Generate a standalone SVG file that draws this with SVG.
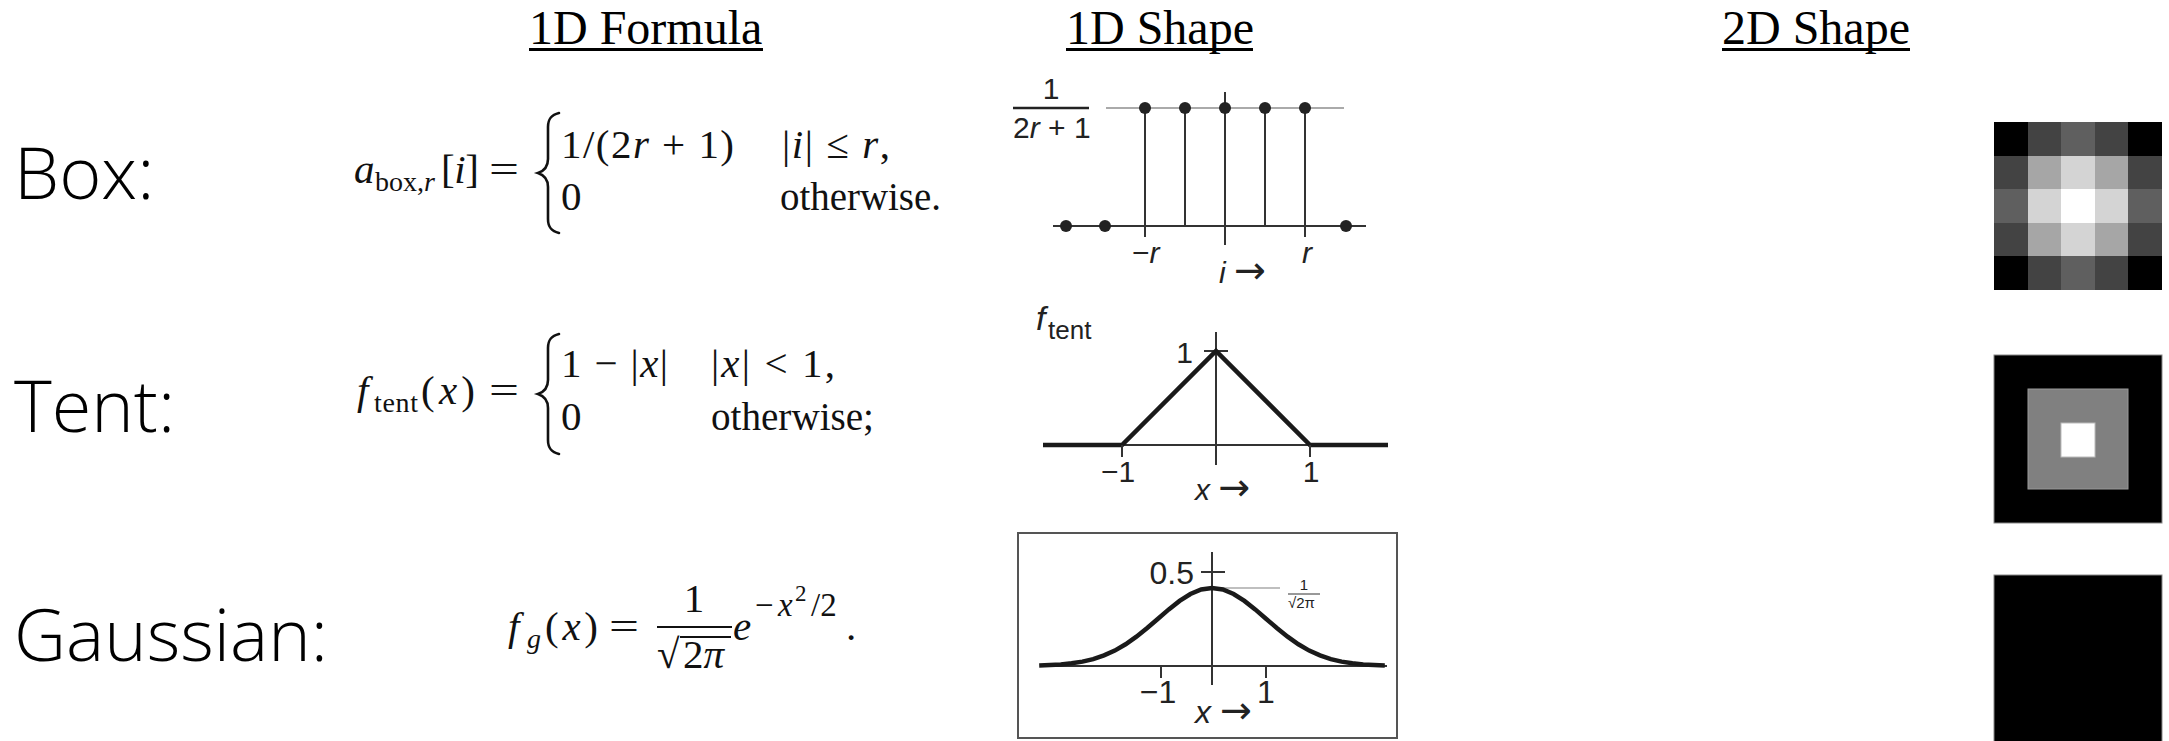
<svg xmlns="http://www.w3.org/2000/svg" width="2169" height="741" viewBox="0 0 2169 741">
<style>
.hdr{font-family:"Liberation Serif",serif;font-size:48px;fill:#000}
.lbl{font-family:"Open Sans","Noto Sans",sans-serif;font-weight:300;font-size:72px;fill:#000}
.m{font-family:"Liberation Serif",serif;font-size:41px;fill:#111}
.s{font-size:28px}
.i{font-style:italic}
.pl{font-family:"Liberation Sans",Arial,sans-serif;font-size:30px;fill:#222}
.arr{font-family:"DejaVu Sans",sans-serif;font-size:38px;font-style:normal}
.ax{stroke:#333;stroke-width:2;fill:none}
.thick{stroke:#1a1a1a;stroke-width:4.5;fill:none;stroke-linejoin:miter}
.gray{stroke:#aaa;stroke-width:2;fill:none}
.dot{fill:#222}
.brace{stroke:#111;stroke-width:2.6;fill:none;stroke-linecap:round}
.ul{fill:#000}
</style>

<g id="headers">
  <g id="header-formula"><text class="hdr" x="529" y="44">1D Formula</text><rect class="ul" x="529" y="48" width="234" height="3"/></g>
  <g id="header-shape1d"><text class="hdr" x="1066" y="44">1D Shape</text><rect class="ul" x="1066" y="48" width="187" height="3"/></g>
  <g id="header-shape2d"><text class="hdr" x="1722" y="44">2D Shape</text><rect class="ul" x="1722" y="48" width="188" height="3"/></g>
</g>

<g id="label-box"><text class="lbl" x="14" y="199">Box:</text></g>
<g id="label-tent"><text class="lbl" x="14" y="432">Tent:</text></g>
<g id="label-gaussian"><text class="lbl" x="14" y="661">Gaussian:</text></g>

<g id="formula-box">
  <text class="m i" x="354" y="183">a</text>
  <text class="m s" x="375" y="191">box,<tspan class="i">r</tspan></text>
  <text class="m" x="441" y="183" textLength="38" lengthAdjust="spacing">[<tspan class="i">i</tspan>]</text>
  <text class="m" x="489" y="183" textLength="30" lengthAdjust="spacingAndGlyphs">=</text>
  <path class="brace" d="M559,113 C551,115 548,119 548,127 L548,159 C548,167 544,171 538,173 C544,175 548,179 548,187 L548,219 C548,227 551,231 559,233"/>
  <text class="m" x="561" y="158" textLength="173" lengthAdjust="spacing">1/(2<tspan class="i">r</tspan> + 1)</text>
  <text class="m" x="782" y="158" textLength="108" lengthAdjust="spacing">|<tspan class="i">i</tspan>| ≤ <tspan class="i">r</tspan>,</text>
  <text class="m" x="561" y="210">0</text>
  <text class="m" x="780" y="210" textLength="161" lengthAdjust="spacingAndGlyphs">otherwise.</text>
</g>

<g id="formula-tent">
  <text class="m i" x="357" y="404">f</text>
  <text class="m s" x="374" y="412" textLength="44" lengthAdjust="spacing">tent</text>
  <text class="m" x="421" y="404" textLength="54" lengthAdjust="spacing">(<tspan class="i">x</tspan>)</text>
  <text class="m" x="489" y="404" textLength="30" lengthAdjust="spacingAndGlyphs">=</text>
  <path class="brace" d="M559,334 C551,336 548,340 548,348 L548,380 C548,388 544,392 538,394 C544,396 548,400 548,408 L548,440 C548,448 551,452 559,454"/>
  <text class="m" x="561" y="377" textLength="107" lengthAdjust="spacing">1 − |<tspan class="i">x</tspan>|</text>
  <text class="m" x="711" y="377" textLength="124" lengthAdjust="spacing">|<tspan class="i">x</tspan>| &lt; 1,</text>
  <text class="m" x="561" y="430">0</text>
  <text class="m" x="711" y="430" textLength="163" lengthAdjust="spacingAndGlyphs">otherwise;</text>
</g>

<g id="formula-gaussian">
  <text class="m i" x="508" y="640">f</text>
  <text class="m s i" x="527" y="648">g</text>
  <text class="m" x="545" y="640" textLength="53" lengthAdjust="spacing">(<tspan class="i">x</tspan>)</text>
  <text class="m" x="609" y="640" textLength="30" lengthAdjust="spacingAndGlyphs">=</text>
  <text class="m" x="694" y="612" text-anchor="middle">1</text>
  <line x1="657" y1="627" x2="732" y2="627" stroke="#111" stroke-width="2"/>
  <text class="m" x="657" y="668">√</text>
  <line x1="680" y1="637" x2="731" y2="637" stroke="#111" stroke-width="2"/>
  <text class="m" x="683" y="668">2<tspan class="i">π</tspan></text>
  <text class="m i" x="733" y="640">e</text>
  <text class="m" style="font-size:33px" x="755" y="616">−</text>
  <text class="m i" style="font-size:33px" x="778" y="616">x</text>
  <text class="m" style="font-size:23px" x="795" y="601">2</text>
  <text class="m" style="font-size:33px" x="811" y="616">/2</text>
  <text class="m" x="846" y="640">.</text>
</g>

<g id="plot-box">
  <text class="pl" x="1051" y="99" text-anchor="middle">1</text>
  <line x1="1013" y1="108" x2="1089" y2="108" stroke="#222" stroke-width="2.5"/>
  <text class="pl" x="1013" y="138">2<tspan class="i">r</tspan> + 1</text>
  <line class="gray" x1="1106" y1="108" x2="1344" y2="108"/>
  <line class="ax" x1="1225" y1="92" x2="1225" y2="245"/>
  <line class="ax" x1="1053" y1="226" x2="1366" y2="226"/>
  <line class="ax" x1="1145" y1="108" x2="1145" y2="237"/>
  <line class="ax" x1="1185" y1="108" x2="1185" y2="226"/>
  <line class="ax" x1="1265" y1="108" x2="1265" y2="226"/>
  <line class="ax" x1="1305" y1="108" x2="1305" y2="237"/>
  <circle class="dot" cx="1145" cy="108" r="6"/>
  <circle class="dot" cx="1185" cy="108" r="6"/>
  <circle class="dot" cx="1225" cy="108" r="6"/>
  <circle class="dot" cx="1265" cy="108" r="6"/>
  <circle class="dot" cx="1305" cy="108" r="6"/>
  <circle class="dot" cx="1066" cy="226" r="6"/>
  <circle class="dot" cx="1105" cy="226" r="6"/>
  <circle class="dot" cx="1346" cy="226" r="6"/>
  <text class="pl" x="1132" y="263">−<tspan class="i">r</tspan></text>
  <text class="pl i" x="1307" y="263" text-anchor="middle">r</text>
  <text class="pl" x="1219" y="283"><tspan class="i">i</tspan> <tspan class="arr">→</tspan></text>
</g>

<g id="plot-tent">
  <text class="pl i" x="1036" y="330" style="font-size:34px">f</text>
  <text class="pl" x="1048" y="339" style="font-size:26px">tent</text>
  <line class="ax" x1="1216" y1="332" x2="1216" y2="465"/>
  <line class="ax" x1="1204" y1="351" x2="1228" y2="351"/>
  <text class="pl" x="1193" y="363" text-anchor="end">1</text>
  <line class="ax" x1="1043" y1="445" x2="1388" y2="445"/>
  <path class="thick" d="M1043,445 L1122,445 L1216,351 L1310,445 L1388,445"/>
  <line class="ax" x1="1122" y1="445" x2="1122" y2="457"/>
  <line class="ax" x1="1310" y1="445" x2="1310" y2="457"/>
  <text class="pl" x="1118" y="482" text-anchor="middle">−1</text>
  <text class="pl" x="1311" y="482" text-anchor="middle">1</text>
  <text class="pl" x="1195" y="500"><tspan class="i">x</tspan> <tspan class="arr">→</tspan></text>
</g>

<g id="plot-gaussian">
  <rect x="1018" y="533" width="379" height="205" fill="none" stroke="#555" stroke-width="2"/>
  <line class="ax" x1="1212" y1="552" x2="1212" y2="685"/>
  <line class="ax" x1="1201" y1="572" x2="1225" y2="572"/>
  <text class="pl" x="1194" y="584" text-anchor="end" style="font-size:32px">0.5</text>
  <line x1="1212" y1="588" x2="1280" y2="588" stroke="#aaa" stroke-width="1.5"/>
  <text class="pl" x="1304" y="590" text-anchor="middle" style="font-size:15px">1</text>
  <line x1="1288" y1="594" x2="1320" y2="594" stroke="#333" stroke-width="1"/>
  <text class="pl" x="1288" y="608" style="font-size:15px">√2π</text>
  <line class="ax" x1="1040" y1="666" x2="1387" y2="666"/>
  <line class="ax" x1="1161" y1="666" x2="1161" y2="678"/>
  <line class="ax" x1="1266" y1="666" x2="1266" y2="678"/>
  <polyline class="thick" stroke-linejoin="round" points="1039.2,665.5 1050,665.1 1060.8,664.5 1071.6,663.3 1082.4,661.6 1093.2,659.1 1104,655.4 1114.8,650.6 1125.6,644.3 1136.4,636.7 1147.2,628 1158,618.7 1168.8,609.4 1179.6,600.9 1190.4,594 1201.2,589.5 1212,588 1222.8,589.5 1233.6,594 1244.4,600.9 1255.2,609.4 1266,618.7 1276.8,628 1287.6,636.7 1298.4,644.3 1309.2,650.6 1320,655.4 1330.8,659.1 1341.6,661.6 1352.4,663.3 1363.2,664.5 1374,665.1 1384.8,665.5"/>
  <text class="pl" x="1158" y="703" text-anchor="middle" style="font-size:32px">−1</text>
  <text class="pl" x="1266" y="703" text-anchor="middle" style="font-size:32px">1</text>
  <text class="pl" x="1195" y="723" style="font-size:32px"><tspan class="i">x</tspan> <tspan class="arr">→</tspan></text>
</g>

<g id="kernel-box" stroke="none">
  <rect x="1994" y="122" width="34" height="34" fill="#000"/>
  <rect x="2028" y="122" width="33" height="34" fill="#434343"/>
  <rect x="2061" y="122" width="34" height="34" fill="#5f5f5f"/>
  <rect x="2095" y="122" width="33" height="34" fill="#434343"/>
  <rect x="2128" y="122" width="34" height="34" fill="#000"/>
  <rect x="1994" y="156" width="34" height="33" fill="#434343"/>
  <rect x="2028" y="156" width="33" height="33" fill="#a6a6a6"/>
  <rect x="2061" y="156" width="34" height="33" fill="#d4d4d4"/>
  <rect x="2095" y="156" width="33" height="33" fill="#a6a6a6"/>
  <rect x="2128" y="156" width="34" height="33" fill="#434343"/>
  <rect x="1994" y="189" width="34" height="34" fill="#5f5f5f"/>
  <rect x="2028" y="189" width="33" height="34" fill="#d4d4d4"/>
  <rect x="2061" y="189" width="34" height="34" fill="#ffffff"/>
  <rect x="2095" y="189" width="33" height="34" fill="#d4d4d4"/>
  <rect x="2128" y="189" width="34" height="34" fill="#5f5f5f"/>
  <rect x="1994" y="223" width="34" height="33" fill="#434343"/>
  <rect x="2028" y="223" width="33" height="33" fill="#a6a6a6"/>
  <rect x="2061" y="223" width="34" height="33" fill="#d4d4d4"/>
  <rect x="2095" y="223" width="33" height="33" fill="#a6a6a6"/>
  <rect x="2128" y="223" width="34" height="33" fill="#434343"/>
  <rect x="1994" y="256" width="34" height="34" fill="#000"/>
  <rect x="2028" y="256" width="33" height="34" fill="#434343"/>
  <rect x="2061" y="256" width="34" height="34" fill="#5f5f5f"/>
  <rect x="2095" y="256" width="33" height="34" fill="#434343"/>
  <rect x="2128" y="256" width="34" height="34" fill="#000"/>
</g>

<g id="kernel-tent">
  <rect x="1994" y="355" width="168" height="168" fill="#000" stroke="#888" stroke-width="1"/>
  <rect x="2028" y="389" width="100" height="100" fill="#808080" stroke="#999" stroke-width="1"/>
  <rect x="2061" y="423" width="34" height="34" fill="#fff" stroke="#bbb" stroke-width="1"/>
</g>

<g id="kernel-gaussian">
  <rect x="1994" y="575" width="168" height="170" fill="#000" stroke="#888" stroke-width="1"/>
</g>
</svg>
